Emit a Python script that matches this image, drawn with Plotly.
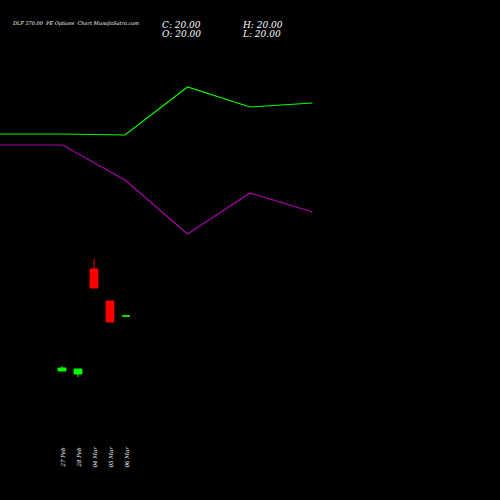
import plotly.graph_objects as go

dates = ["27 Feb", "28 Feb", "04 Mar", "05 Mar", "06 Mar"]
opens = [9.0, 8.4, 29.4, 23.0, 20.0]
highs = [10.0, 9.4, 31.4, 23.0, 20.0]
lows = [9.0, 7.8, 25.6, 18.8, 20.0]
closes = [9.6, 9.4, 25.6, 18.8, 20.0]

line_x = [0, 1, 2, 3, 4, 5]
green_line = [366, 366, 365, 413, 393, 397]
purple_line = [355, 355, 320, 266, 307, 288]

fig = go.Figure()
fig.add_trace(go.Candlestick(
    x=list(range(len(dates))), open=opens, high=highs, low=lows, close=closes,
    increasing=dict(line=dict(color="#00ff00", width=1), fillcolor="#00ff00"),
    decreasing=dict(line=dict(color="#ff0000", width=1), fillcolor="#ff0000"),
    whiskerwidth=0, showlegend=False))
fig.add_trace(go.Scatter(x=line_x, y=green_line, mode="lines", line=dict(color="#00ff00", width=1.2),
                         xaxis="x2", yaxis="y2", showlegend=False))
fig.add_trace(go.Scatter(x=line_x, y=purple_line, mode="lines", line=dict(color="#aa00aa", width=1.2),
                         xaxis="x2", yaxis="y2", showlegend=False))

annotations = [
    dict(x=0.02, y=0.965, xref="paper", yref="paper", xanchor="left", showarrow=False,
         text="<i>DLF 570.00  PE Options  Chart MunafaSutra.com</i>",
         font=dict(family="DejaVu Serif", size=5, color="white")),
]
for txt, px, py in [("C: 20.00", 160, 25), ("O: 20.00", 160, 34), ("H: 20.00", 240, 25), ("L: 20.00", 240, 34)]:
    annotations.append(dict(x=px/500, y=1-py/500, xref="paper", yref="paper", xanchor="left", yanchor="middle",
                            showarrow=False, text="<i>" + txt + "</i>",
                            font=dict(family="DejaVu Serif", size=9, color="white")))
for i, d in enumerate(dates):
    annotations.append(dict(x=i, y=1-470/500, xref="x", yref="paper", showarrow=False, text="<i>" + d + "</i>", textangle=-90,
                            font=dict(family="DejaVu Serif", size=5.5, color="white")))
fig.update_layout(
    width=500, height=500, margin=dict(l=0, r=0, t=0, b=0),
    paper_bgcolor="black", plot_bgcolor="black",
    xaxis=dict(range=[-3.875, 27.375], visible=False, rangeslider=dict(visible=False)),
    yaxis=dict(range=[-16.8, 83.2], visible=False),
    xaxis2=dict(range=[0, 8], overlaying="x", visible=False),
    yaxis2=dict(range=[0, 500], overlaying="y", visible=False),
    annotations=annotations,
)
fig.write_html("out.html", config={"displayModeBar": False},
               post_script="document.body.style.margin='0';document.body.style.background='black';")
